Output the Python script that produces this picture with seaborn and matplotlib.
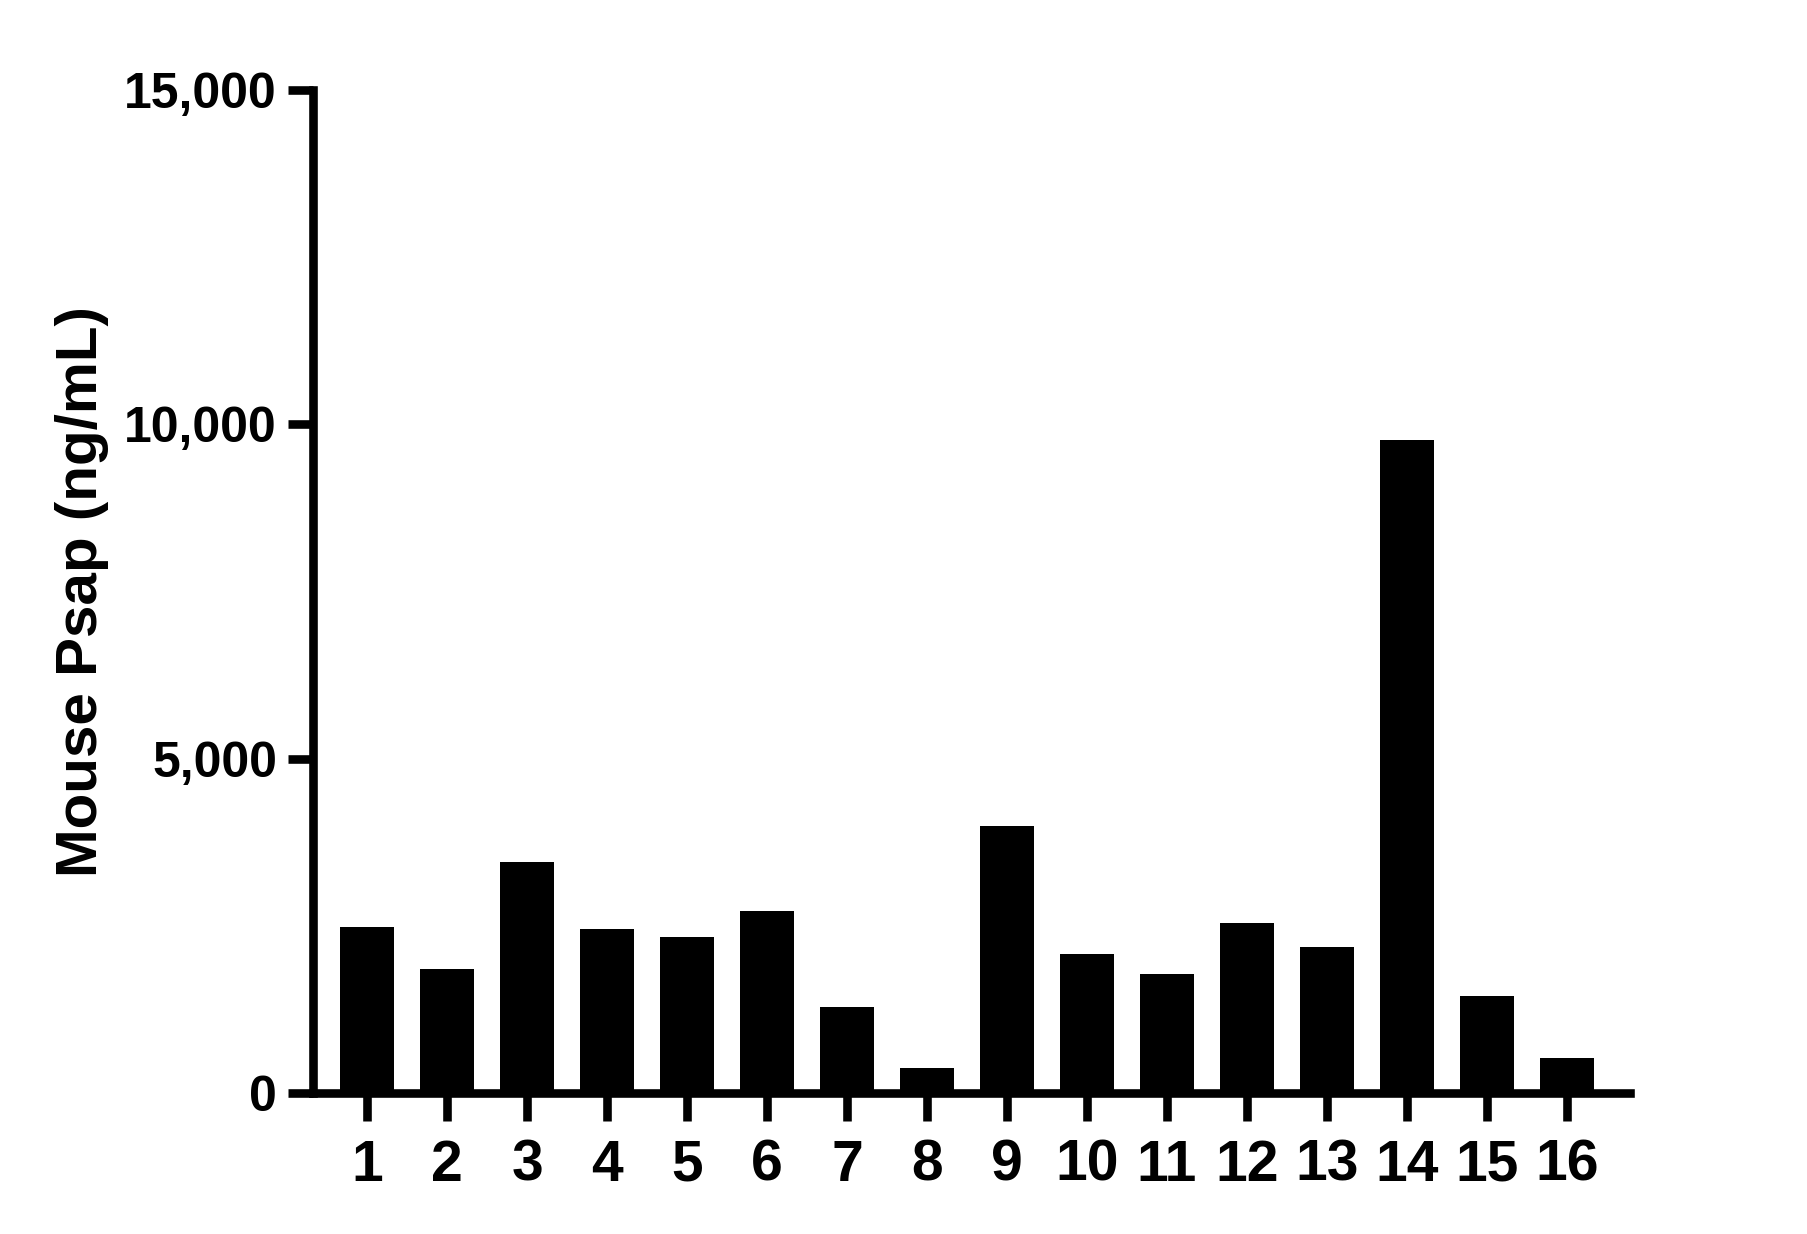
import pandas as pd
import seaborn as sns
import matplotlib.pyplot as plt
from matplotlib.ticker import FuncFormatter

# values (ng/mL)
samples = [str(i) for i in range(1, 17)]
psap = [2480, 1850, 3450, 2450, 2330, 2720, 1280, 370,
        4000, 2075, 1780, 2540, 2180, 9760, 1450, 520]
y_ticks = [0, 5000, 10000, 15000]

df = pd.DataFrame({"sample": samples, "psap": psap})

sns.set_style("ticks")
plt.rcParams["font.family"] = ["Liberation Sans", "DejaVu Sans"]
plt.rcParams["font.weight"] = "bold"
plt.rcParams["text.color"] = "black"
plt.rcParams["axes.labelcolor"] = "black"

fig = plt.figure(figsize=(18.07, 12.34), dpi=100)
ax = fig.add_axes([313 / 1807, 1 - 1093 / 1234, (1630 - 313) / 1807, (1093 - 90) / 1234])

sns.barplot(data=df, x="sample", y="psap", color="black", width=0.675,
            linewidth=0, saturation=1, ax=ax)

ax.set_xlim(-0.675, 15.79)
ax.set_ylim(0, 15000)
ax.set_yticks(y_ticks)
ax.yaxis.set_major_formatter(FuncFormatter(lambda v, p: f"{int(v):,}"))

lw = 6.2
for side in ["top", "right"]:
    ax.spines[side].set_visible(False)
for side in ["left", "bottom"]:
    ax.spines[side].set_linewidth(lw)
    ax.spines[side].set_color("black")
    ax.spines[side].set_capstyle("projecting")

ax.tick_params(axis="y", length=18, width=lw, pad=8, labelsize=36, colors="black")
ax.tick_params(axis="x", length=20, width=lw, pad=13, labelsize=41, colors="black")
for lab in ax.get_xticklabels() + ax.get_yticklabels():
    lab.set_fontweight("bold")

ax.set_xlabel("")
ax.set_ylabel("Mouse Psap (ng/mL)", fontsize=42, fontweight="bold", color="black")
ax.yaxis.set_label_coords(-0.155, 0.5)

fig.savefig("out.png", dpi=100, facecolor="white")
